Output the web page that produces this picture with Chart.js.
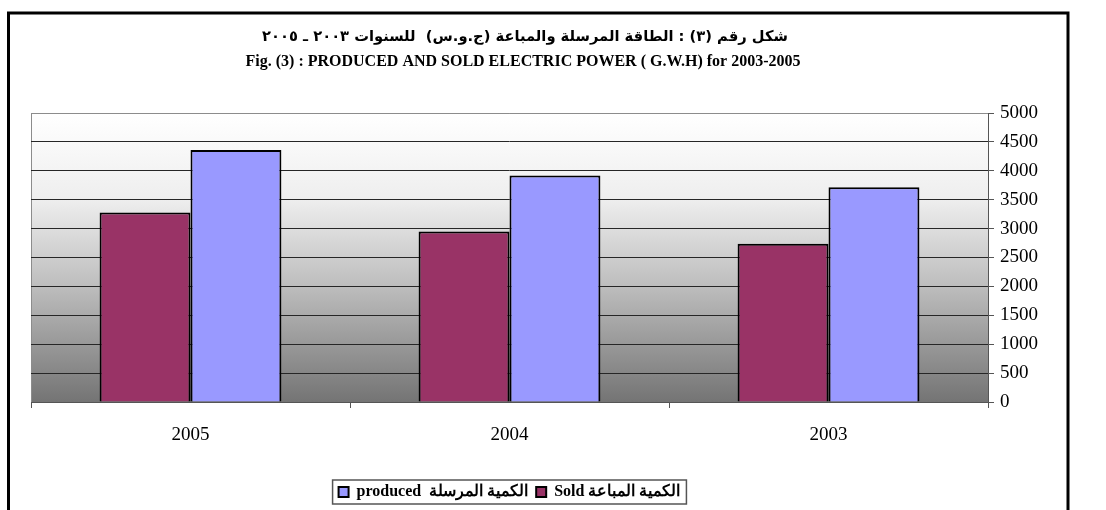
<!DOCTYPE html>
<html>
<head>
<meta charset="utf-8">
<script src="https://cdn.jsdelivr.net/npm/chart.js@4.4.0/dist/chart.umd.min.js"></script>
<style>
    html, body { margin: 0; padding: 0; background: #fff; }
    canvas { display: block; }
</style>
</head>
<body>
<canvas id="myChart" width="1106" height="510"></canvas>
<script>
const years = ['2005', '2004', '2003'];
const soldValues = [3280, 2950, 2740];
const producedValues = [4360, 3920, 3715];
const yMin = 0;
const yMax = 5000;
const yStep = 500;

const soldLabel = 'Sold الكمية المباعة';
const producedLabel = 'produced  الكمية المرسلة';
const titleAr = 'شكل رقم (٣) : الطاقة المرسلة والمباعة (ج.و.س)  للسنوات ٢٠٠٣ ـ ٢٠٠٥';
const titleEn = 'Fig. (3) : PRODUCED AND SOLD ELECTRIC POWER ( G.W.H) for 2003-2005';

const serif = '"Liberation Serif", "Times New Roman", serif';

// gradient behind the plot, white at top to grey at the bottom
const plotBackground = {
    id: 'plotBackground',
    beforeDraw(chart) {
        const {ctx, chartArea: a} = chart;
        const g = ctx.createLinearGradient(0, a.top, 0, a.bottom);
        g.addColorStop(0, '#ffffff');
        g.addColorStop(0.3, '#eeeeee');
        g.addColorStop(0.6, '#bdbdbd');
        g.addColorStop(1, '#747474');
        ctx.save();
        ctx.fillStyle = g;
        ctx.fillRect(a.left, a.top, a.right - a.left, a.bottom - a.top);
        ctx.strokeStyle = '#8c8c8c';
        ctx.lineWidth = 1;
        ctx.beginPath();
        ctx.moveTo(a.left + 0.5, a.bottom);
        ctx.lineTo(a.left + 0.5, a.top + 0.5);
        ctx.lineTo(a.right, a.top + 0.5);
        ctx.stroke();
        ctx.restore();
    }
};

// titles, outer frame and the box round the legend
const frameAndTitles = {
    id: 'frameAndTitles',
    afterDraw(chart) {
        const ctx = chart.ctx;
        ctx.save();
        ctx.fillStyle = '#000';
        ctx.textAlign = 'center';
        ctx.textBaseline = 'middle';

        ctx.direction = 'rtl';
        ctx.font = 'bold 14.7px "DejaVu Sans", sans-serif';
        ctx.fillText(titleAr, 525, 37);

        ctx.direction = 'ltr';
        ctx.font = 'bold 16px ' + serif;
        ctx.fillText(titleEn, 523, 62);

        ctx.strokeStyle = '#000';
        ctx.lineWidth = 3;
        ctx.beginPath();
        ctx.moveTo(8.5, 520);
        ctx.lineTo(8.5, 13);
        ctx.lineTo(1068, 13);
        ctx.lineTo(1068, 520);
        ctx.stroke();

        const boxes = chart.legend.legendHitBoxes;
        if (boxes && boxes.length) {
            let left = Infinity, right = -Infinity, top = Infinity, bottom = -Infinity;
            boxes.forEach(b => {
                left = Math.min(left, b.left);
                right = Math.max(right, b.left + b.width);
                top = Math.min(top, b.top);
                bottom = Math.max(bottom, b.top + b.height);
            });
            ctx.strokeStyle = '#555';
            ctx.lineWidth = 1.5;
            ctx.strokeRect(left - 6, top - 4, right - left + 12, bottom - top + 8);
        }
        ctx.restore();
    }
};

const ctx = document.getElementById('myChart').getContext('2d');
const myChart = new Chart(ctx, {
    type: 'bar',
    data: {
        labels: years,
        datasets: [{
            label: soldLabel,
            data: soldValues,
            backgroundColor: '#993366',
            borderColor: '#000',
            borderWidth: 2,
        }, {
            label: producedLabel,
            data: producedValues,
            backgroundColor: '#9999ff',
            borderColor: '#000',
            borderWidth: 2,
        }]
    },
    options: {
        responsive: false,
        animation: false,
        datasets: {
            bar: {
                barPercentage: 1,
                categoryPercentage: 0.57,
            }
        },
        layout: {
            padding: { left: 31, top: 113, right: 58, bottom: 0 }
        },
        plugins: {
            legend: {
                position: 'bottom',
                fullSize: false,
                reverse: true,
                labels: {
                    boxWidth: 10,
                    boxHeight: 10,
                    padding: 8,
                    color: '#000',
                    font: { family: serif, size: 16, weight: 'bold' },
                },
            },
            tooltip: { enabled: false },
        },
        scales: {
            x: {
                grid: {
                    offset: true,
                    drawOnChartArea: false,
                    tickLength: 6,
                    color: '#555',
                },
                border: { display: true, color: '#555' },
                ticks: {
                    color: '#000',
                    padding: 16,
                    font: { family: serif, size: 19 },
                },
                afterFit: function (scale) {
                    scale.height = 74;
                },
            },
            y: {
                position: 'right',
                min: yMin,
                max: yMax,
                ticks: {
                    stepSize: yStep,
                    color: '#000',
                    padding: 6,
                    font: { family: serif, size: 19 },
                    callback: function (value) {
                        return String(value);
                    },
                },
                grid: {
                    tickLength: 6,
                    tickColor: '#555',
                    color: function (context) {
                        return context.tick && context.tick.value === yMax ? '#8c8c8c' : '#262626';
                    },
                },
                border: { display: true, color: '#555' },
                afterFit: function (scale) {
                    scale.width = 60;
                },
            },
        },
    },
    plugins: [plotBackground, frameAndTitles]
});
</script>
</body>
</html>
